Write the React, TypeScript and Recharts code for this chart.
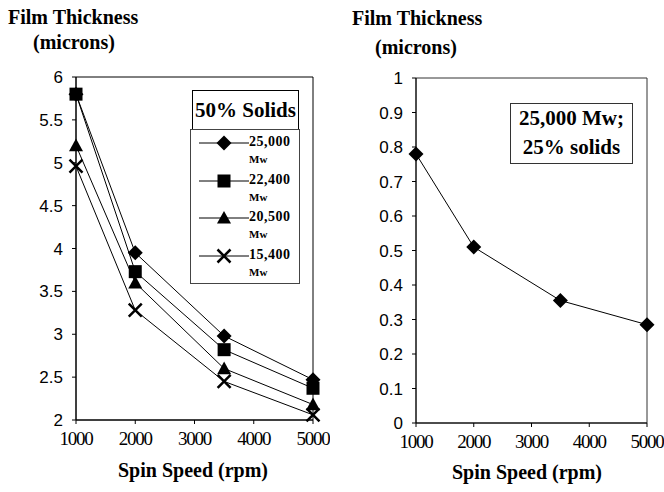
import { LineChart, Line, XAxis, YAxis, ReferenceArea } from 'recharts';

const speeds = [1000, 2000, 3500, 5000];
const mw25000 = [5.8, 3.95, 2.98, 2.47];
const mw22400 = [5.8, 3.73, 2.82, 2.37];
const mw20500 = [5.2, 3.6, 2.6, 2.18];
const mw15400 = [4.96, 3.28, 2.45, 2.06];
const solids25 = [0.78, 0.51, 0.355, 0.285];

const xTicks = [1000, 2000, 3000, 4000, 5000];
const leftYTicks = [2, 2.5, 3, 3.5, 4, 4.5, 5, 5.5, 6];
const rightYTicks = [0, 0.1, 0.2, 0.3, 0.4, 0.5, 0.6, 0.7, 0.8, 0.9, 1];
const seriesNames = ['25,000', '22,400', '20,500', '15,400'];

const leftData = speeds.map((s, i) => ({
  speed: s,
  a: mw25000[i],
  b: mw22400[i],
  c: mw20500[i],
  d: mw15400[i],
}));
const rightData = speeds.map((s, i) => ({ speed: s, v: solids25[i] }));

const serif = '"Liberation Serif", "Times New Roman", serif';
const sans = '"Liberation Sans", Arial, sans-serif';

type MarkProps = { cx?: number; cy?: number; size?: number };

function diamond({ cx, cy, size = 7.5 }: MarkProps) {
  if (cx == null || cy == null) return <g />;
  return <path d={`M${cx},${cy - size}L${cx + size},${cy}L${cx},${cy + size}L${cx - size},${cy}Z`} fill="#000" />;
}
function square({ cx, cy, size = 6.5 }: MarkProps) {
  if (cx == null || cy == null) return <g />;
  return <rect x={cx - size} y={cy - size} width={size * 2} height={size * 2} fill="#000" />;
}
function triangle({ cx, cy, size = 7 }: MarkProps) {
  if (cx == null || cy == null) return <g />;
  return <path d={`M${cx},${cy - size}L${cx + size},${cy + size * 0.8}L${cx - size},${cy + size * 0.8}Z`} fill="#000" />;
}
function cross({ cx, cy, size = 6.5 }: MarkProps) {
  if (cx == null || cy == null) return <g />;
  return (
    <path
      d={`M${cx - size},${cy - size}L${cx + size},${cy + size}M${cx + size},${cy - size}L${cx - size},${cy + size}`}
      stroke="#000"
      strokeWidth={2.5}
      fill="none"
    />
  );
}

const marks = [diamond, square, triangle, cross];
const keys = ['a', 'b', 'c', 'd'];

const dotFn = (m: (p: MarkProps) => JSX.Element) => (p: any) => <g key={p.key ?? `${p.cx}-${p.cy}`}>{m(p)}</g>;

const titleStyle: React.CSSProperties = {
  position: 'absolute',
  fontFamily: serif,
  fontWeight: 'bold',
  fontSize: 20,
  whiteSpace: 'nowrap',
  lineHeight: '24px',
};

const xTick = { fill: '#000', fontSize: 19, fontFamily: serif, letterSpacing: -1.3 };
const yTick = { fill: '#000', fontSize: 17, fontFamily: sans };

export default function App() {
  return (
    <div style={{ position: 'absolute', left: 0, top: 0, width: 664, height: 492, background: '#fff' }}>
      {/* left panel */}
      <div style={{ position: 'absolute', left: 0, top: 0 }}>
        <LineChart width={330} height={492} data={leftData} margin={{ top: 77, right: 17, bottom: 42, left: 0 }}>
          <XAxis
            dataKey="speed"
            type="number"
            domain={[1000, 5000]}
            ticks={xTicks}
            tick={xTick}
            tickSize={4}
            tickMargin={8}
            height={30}
            stroke="#000"
            interval={0}
          />
          <YAxis
            type="number"
            domain={[2, 6]}
            ticks={leftYTicks}
            tick={yTick}
            tickSize={4}
            tickMargin={9}
            width={76}
            stroke="#000"
            interval={0}
          />
          <ReferenceArea x1={1000} x2={5000} y1={2} y2={6} fill="none" stroke="#000" strokeWidth={1} fillOpacity={0} />
          {keys.map((k, i) => (
            <Line
              key={k}
              dataKey={k}
              stroke="#000"
              strokeWidth={1}
              dot={dotFn(marks[i])}
              activeDot={false}
              isAnimationActive={false}
            />
          ))}
        </LineChart>
        <div style={{ ...titleStyle, left: 8, top: 5 }}>Film Thickness</div>
        <div style={{ ...titleStyle, left: 33, top: 30 }}>(microns)</div>
        <div style={{ ...titleStyle, left: 0, width: 386, textAlign: 'center', top: 458 }}>Spin Speed (rpm)</div>
        <div
          style={{
            position: 'absolute',
            left: 192,
            top: 90,
            width: 105,
            height: 39,
            border: '1px solid #000',
            fontFamily: serif,
            fontWeight: 'bold',
            fontSize: 21,
            lineHeight: '39px',
            textAlign: 'center',
            background: '#fff',
          }}
        >
          50% Solids
        </div>
        <div
          style={{
            position: 'absolute',
            left: 190,
            top: 129,
            width: 108,
            height: 153,
            border: '1px solid #444',
            background: '#fff',
          }}
        >
          {seriesNames.map((n, i) => (
            <div key={n} style={{ position: 'absolute', left: 0, top: 4 + i * 37.7, width: 108, height: 36 }}>
              <svg width={58} height={20} style={{ position: 'absolute', left: 2, top: 0 }}>
                <line x1={6} y1={9} x2={56} y2={9} stroke="#000" strokeWidth={1} />
                {marks[i]({ cx: 31, cy: 9 })}
              </svg>
              <div
                style={{
                  position: 'absolute',
                  left: 58,
                  top: -1,
                  fontFamily: serif,
                  fontWeight: 'bold',
                  fontSize: 14,
                  lineHeight: '18px',
                  letterSpacing: 0.5,
                }}
              >
                {n}
              </div>
              <div
                style={{
                  position: 'absolute',
                  left: 58,
                  top: 18,
                  fontFamily: serif,
                  fontWeight: 'bold',
                  fontSize: 11,
                  lineHeight: '14px',
                }}
              >
                Mw
              </div>
            </div>
          ))}
        </div>
      </div>

      {/* right panel */}
      <div style={{ position: 'absolute', left: 330, top: 0 }}>
        <LineChart width={334} height={492} data={rightData} margin={{ top: 78, right: 17, bottom: 39, left: 0 }}>
          <XAxis
            dataKey="speed"
            type="number"
            domain={[1000, 5000]}
            ticks={xTicks}
            tick={xTick}
            tickSize={4}
            tickMargin={8}
            height={30}
            stroke="#000"
            interval={0}
          />
          <YAxis
            type="number"
            domain={[0, 1]}
            ticks={rightYTicks}
            tick={yTick}
            tickSize={4}
            tickMargin={9}
            width={86}
            stroke="#000"
            interval={0}
          />
          <ReferenceArea x1={1000} x2={5000} y1={0} y2={1} fill="none" stroke="#333" strokeWidth={1} fillOpacity={0} />
          <Line
            dataKey="v"
            stroke="#000"
            strokeWidth={1}
            dot={dotFn(diamond)}
            activeDot={false}
            isAnimationActive={false}
          />
        </LineChart>
        <div style={{ ...titleStyle, left: 22, top: 6 }}>Film Thickness</div>
        <div style={{ ...titleStyle, left: 45, top: 35 }}>(microns)</div>
        <div style={{ ...titleStyle, left: 0, width: 394, textAlign: 'center', top: 460 }}>Spin Speed (rpm)</div>
        <div
          style={{
            position: 'absolute',
            left: 180,
            top: 103,
            width: 121,
            height: 59,
            border: '1px solid #333',
            fontFamily: serif,
            fontWeight: 'bold',
            fontSize: 21,
            lineHeight: '29px',
            textAlign: 'center',
            background: '#fff',
          }}
        >
          25,000 Mw;
          <br />
          25% solids
        </div>
      </div>
    </div>
  );
}
